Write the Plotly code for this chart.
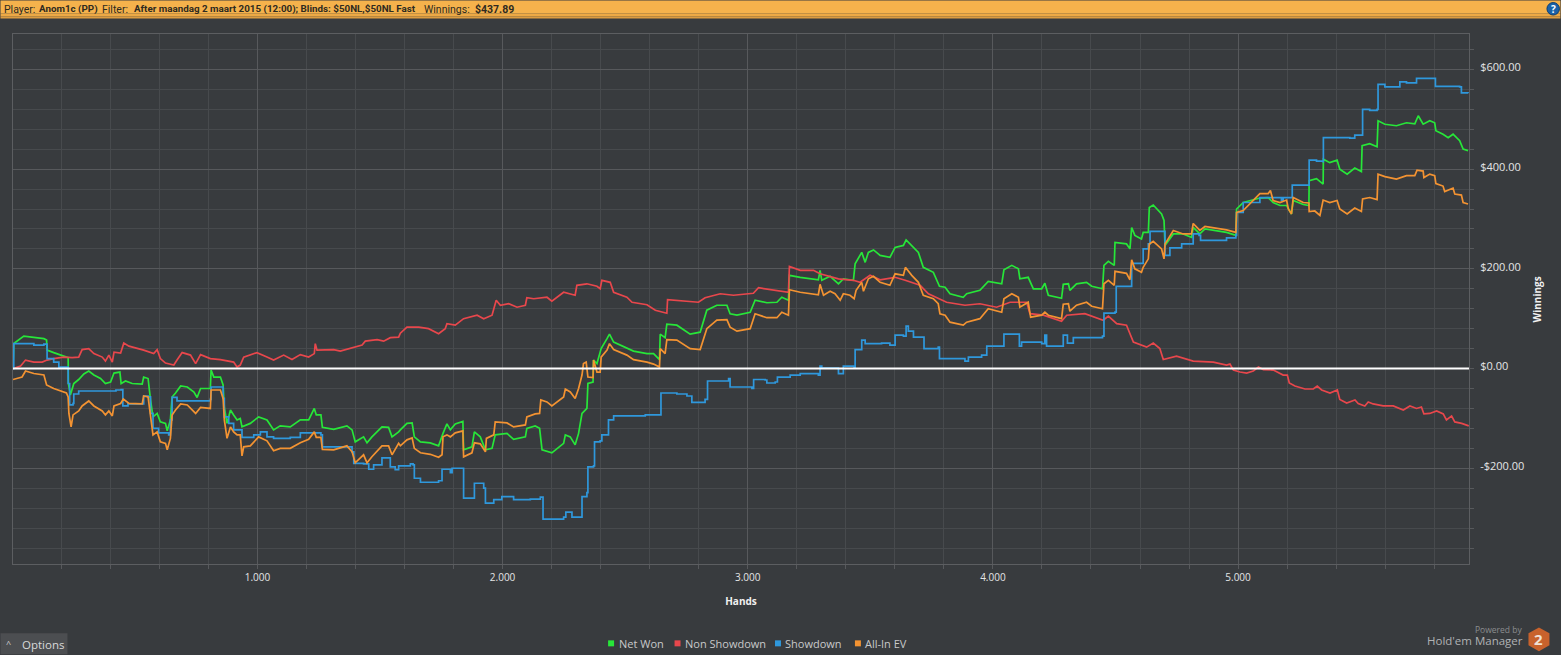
import plotly.graph_objects as go

# Series: hands, dollars
net_hands = [3,6,47,88,129,140,142,169,197,221,228,229,237,251,271,292,312,333,360,380,401,415,439,444,462,489,530,536,554,564,574,591,604,625,632,645,652,666,687,714,741,754,768,808,811,822,849,860,865,876,890,903,917,930,937,971,1005,1039,1066,1093,1134,1175,1209,1232,1240,1259,1265,1311,1365,1386,1399,1433,1447,1467,1508,1535,1549,1576,
1583,1610,1631,1640,1665,1705,1739,1757,1773,1787,1807,1838,1841,1875,1885,1909,1930,1957,1970,2018,2045,2093,2099,2133,2151,2161,2201,2249,2256,2276,2296,2310,2324,2344,2348,2369,2371,2385,2402,2426,2436,2453,2507,2534,2589,2616,2640,2643,2663,2670,2711,2765,2806,2833,2874,2915,2928,2956,3010,3030,3078,3119,3139,3166,
3170,3214,3288,3295,3302,3336,3370,3390,3431,3438,3465,3479,3492,3513,3540,3580,3601,3635,3646,3669,3696,3716,3757,3782,3805,3825,3879,3893,3947,3981,4036,4045,4077,4104,4110,4144,4165,4199,4212,4226,4280,4287,4308,4314,4341,4382,4403,4447,4453,4471,4495,4498,4545,4559,4566,4579,4606,4613,4634,4638,4654,4688,4698,4702,4736,4776,4810,4817,4844,4865,4953,4991,4994,5021,
5089,5123,5143,5171,5198,5218,5225,5266,5289,5290,5320,5347,5348,5374,5404,5415,5445,5476,5503,5506,5537,5567,5571,5599,5646,5687,5721,5735,5755,5782,5802,5807,5836,5857,5877,5904,5918,5938]
net_won = [0,50,65,62,60,57,37,32,27,23,22,-30,-53,-30,-22,-11,-5,-13,-20,-30,-27,-9,-7,-30,-25,-30,-31,-17,-20,-63,-97,-90,-107,-110,-125,-103,-57,-49,-35,-37,-47,-58,-40,-40,-3,-17,-17,-33,-78,-110,-83,-93,-103,-100,-117,-110,-97,-103,-123,-115,-117,-103,-103,-80,-93,-93,-118,-122,-115,-123,-147,-137,-149,-137,-117,-118,-137,-127,
-123,-110,-109,-137,-147,-149,-155,-130,-111,-123,-111,-106,-163,-157,-127,-137,-163,-160,-133,-130,-142,-137,-120,-115,-120,-163,-169,-150,-133,-137,-153,-130,-90,-80,-30,-27,17,10,40,60,69,53,42,35,30,30,18,69,62,89,87,69,73,117,127,127,110,107,113,137,132,133,143,137,
187,183,178,197,177,185,170,180,177,210,233,213,233,238,227,223,243,247,258,247,233,203,193,165,163,150,143,150,157,175,170,198,207,200,180,183,160,160,171,147,141,169,170,157,170,173,165,160,207,215,207,253,250,240,283,267,260,273,273,323,328,310,297,247,270,270,263,283,270,280,273,267,320,333,
342,343,333,327,327,310,337,329,327,377,381,370,420,413,418,400,390,402,395,447,451,445,497,490,487,493,491,507,490,497,493,477,470,463,470,457,440,437]

nonsd_hands = [3,4,34,54,88,122,142,169,210,244,271,285,312,333,367,380,394,408,415,442,455,476,536,577,591,604,625,659,672,693,727,748,768,808,849,903,917,930,944,998,1039,1066,1107,1141,1175,1209,1232,1236,1243,1311,1338,1393,1427,1440,1488,1515,1542,1576,
1583,1610,1658,1698,1739,1766,1773,1807,1841,1896,1923,1957,1974,1991,2025,2059,2093,2099,2127,2181,2201,2249,2296,2303,2344,2385,2398,2405,2439,2453,2507,2528,2589,2623,2670,2673,2752,2799,2826,2888,2942,3023,3044,3119,3166,
3170,3214,3268,3295,3370,3431,3458,3499,3540,3601,3642,3703,3737,3811,3886,3947,4015,4070,4138,4151,4206,4280,4301,4375,4450,4471,4505,4545,4573,4627,4654,4681,4695,4749,4817,4899,4953,
4967,4981,5008,5035,5062,5083,5103,5144,5184,5201,5209,5232,5273,5307,5323,5341,5375,5405,5415,5443,5477,5490,5517,5531,5551,5592,5633,5674,5701,5728,5748,5758,5782,5810,5837,5850,5871,5884,5912,5941]
non_showdown = [50,0,5,17,13,13,17,20,23,22,23,38,40,30,23,15,27,13,33,31,51,45,37,30,38,20,11,7,17,32,27,10,28,20,18,13,3,7,23,32,23,17,27,18,28,23,30,50,37,38,35,42,47,55,58,55,62,63,
71,83,83,80,70,80,90,87,100,107,100,107,137,127,130,123,127,142,140,143,135,153,147,167,170,165,160,177,173,153,143,133,128,117,111,138,135,133,142,150,147,151,162,157,153,
205,197,197,190,180,177,173,187,178,183,177,167,150,133,127,130,123,133,133,110,107,95,107,110,97,105,90,87,53,43,51,40,18,25,15,13,7,
9,-3,-7,-9,-5,3,-2,-3,-13,-13,-29,-35,-41,-41,-35,-43,-49,-43,-62,-69,-63,-70,-75,-67,-71,-75,-75,-83,-75,-80,-77,-91,-90,-85,-91,-103,-95,-107,-110,-115]

sd_hands = [3,6,54,88,129,140,142,169,190,221,228,234,248,251,271,346,423,444,451,472,530,536,554,564,574,597,628,638,645,652,672,740,808,811,849,860,865,883,903,937,985,1012,1039,1066,1134,1175,1236,1259,1265,1365,1386,1393,1433,1454,1474,1508,1535,1542,1562,1576,
1583,1624,1635,1640,1665,1739,1753,1780,1787,1794,1838,1841,1875,1885,1923,1930,1964,1997,2045,2113,2154,2165,2249,2258,2276,2283,2317,2324,2344,2348,2371,2375,2398,2405,2426,2432,2453,2582,2643,2646,2711,2752,2772,2826,2836,2922,2928,3017,3024,3071,3078,3112,3121,
3173,3214,3288,3295,3302,3363,3370,3383,3390,3434,3438,3465,3479,3546,3580,3601,3635,3646,3655,3673,3676,3714,3719,3777,3782,3886,3900,3954,3975,4043,4045,4104,4108,4117,4199,4212,4219,4280,4287,4304,4328,4447,4453,4498,4503,4562,4566,4606,4613,4634,4641,4695,4702,4722,4770,4810,4817,4841,4847,4953,4991,4994,5021,
5089,5177,5184,5218,5221,5289,5290,5320,5347,5348,5456,5476,5506,5508,5537,5567,5571,5599,5646,5660,5687,5721,5728,5802,5805,5904,5911,5938]
showdown = [0,50,50,47,49,49,20,13,3,3,-30,-73,-70,-51,-45,-45,-43,-42,-75,-71,-71,-55,-57,-90,-120,-129,-129,-133,-103,-58,-65,-65,-62,-37,-37,-60,-97,-110,-123,-138,-133,-127,-137,-140,-138,-129,-129,-133,-157,-157,-167,-190,-191,-202,-193,-179,-179,-197,-203,-195,
-195,-191,-193,-220,-228,-225,-202,-202,-209,-200,-200,-260,-260,-230,-240,-270,-263,-257,-263,-262,-258,-302,-298,-288,-288,-298,-298,-257,-249,-197,-195,-147,-145,-133,-133,-103,-95,-93,-93,-49,-51,-55,-68,-62,-25,-20,-37,-40,-22,-23,-29,-27,-17,
-13,-10,-13,5,1,1,-10,-10,5,3,38,57,50,51,47,67,65,85,75,75,63,63,40,43,20,15,23,27,45,45,69,69,45,53,50,67,45,45,67,51,62,65,111,113,165,165,211,211,240,250,275,275,227,242,250,250,270,267,257,262,267,313,333,
343,338,343,343,368,368,418,416,415,463,462,468,468,520,518,520,570,565,565,575,573,573,582,582,566,565,553,552]

ev_hands = [3,40,54,88,129,140,169,197,221,228,231,240,248,271,285,312,333,367,380,394,408,415,442,453,476,530,536,554,564,574,591,604,625,632,645,652,666,687,714,748,768,808,811,849,860,865,876,890,903,917,930,937,944,971,1005,1039,1066,1093,1134,1175,1209,1232,1240,1259,1265,1311,1365,1386,1399,1433,1447,1467,1508,1535,1549,1576,
1583,1610,1631,1640,1665,1705,1739,1753,1757,1773,1787,1807,1838,1841,1875,1885,1909,1930,1934,1964,1970,2018,2045,2093,2099,2133,2151,2156,2181,2201,2249,2256,2276,2296,2310,2324,2330,2341,2348,2369,2371,2385,2398,2402,2426,2436,2453,2507,2534,2589,2616,2640,2643,2663,2670,2711,2765,2806,2833,2874,2915,2928,2956,3010,3030,3078,3119,3139,3166,
3170,3214,3288,3295,3309,3336,3356,3377,3390,3417,3434,3442,3465,3472,3492,3513,3540,3580,3601,3635,3643,3669,3696,3716,3757,3777,3784,3805,3825,3879,3893,3947,3981,4036,4045,4077,4104,4110,4144,4154,4199,4212,4226,4280,4287,4308,4314,4341,4382,4403,4447,4453,4471,4495,4498,4545,4559,4566,4579,4606,4613,4634,4638,4654,4688,4698,4702,4736,4776,4810,4817,4844,4865,4953,4991,4994,5021,
5089,5123,5132,5143,5171,5198,5205,5218,5225,5266,5289,5290,5313,5334,5347,5374,5404,5415,5445,5476,5503,5508,5537,5567,5571,5599,5646,5687,5721,5730,5755,5758,5782,5802,5807,5836,5843,5877,5884,5911,5918,5938]
all_in_ev = [-22,-17,-5,-10,-13,-33,-40,-45,-49,-57,-90,-117,-93,-85,-75,-65,-75,-85,-93,-85,-95,-75,-70,-61,-70,-71,-55,-57,-90,-133,-127,-147,-150,-163,-140,-93,-83,-71,-73,-90,-78,-80,-43,-43,-60,-103,-140,-117,-127,-133,-133,-175,-157,-155,-137,-145,-165,-160,-160,-149,-142,-127,-138,-138,-162,-163,-155,-167,-189,-173,-189,-177,-155,-155,-173,-150,
-155,-143,-139,-160,-169,-172,-178,-173,-137,-133,-137,-129,-125,-177,-169,-149,-151,-167,-140,-133,-107,-109,-117,-113,-97,-91,-90,-63,-67,-75,-57,-41,-47,-60,-40,-13,10,13,-17,-18,17,-7,-7,23,37,50,38,27,18,13,9,3,40,30,58,57,40,38,80,97,98,83,75,80,110,102,102,113,107,
158,153,148,169,147,155,150,137,150,147,140,157,173,155,180,185,173,167,190,187,203,187,173,147,140,130,110,107,93,87,93,100,120,113,140,150,143,123,133,103,107,113,107,100,129,130,115,127,133,125,120,170,177,167,195,191,178,218,200,193,203,220,250,255,240,220,250,277,270,270,291,277,285,278,273,313,317,
351,351,357,337,333,338,320,310,343,333,332,315,316,307,338,333,337,320,310,322,315,340,343,339,390,385,380,387,387,398,396,383,390,387,371,366,355,362,350,348,333,330]

x_tick_values = [1000, 2000, 3000, 4000, 5000]
x_tick_labels = ["1.000", "2.000", "3.000", "4.000", "5.000"]
y_tick_values = [-200, 0, 200, 400, 600]
y_tick_labels = ["-$200.00", "$0.00", "$200.00", "$400.00", "$600.00"]
series_names = ["Net Won", "Non Showdown", "Showdown", "All-In EV"]
series_colors = ["#27e639", "#e8474c", "#2f98dc", "#f39332"]
series_shapes = ["linear", "linear", "hv", "linear"]

W, H = 1561, 655
L, R, T, B = 12.5, 1469.5, 33.5, 564.5
BG = "#383b3e"
FONT = "Open Sans, sans-serif"

def px(x):
    return (x - L) / (R - L)

def py(y):
    return (B - y) / (B - T)

fig = go.Figure()
pairs = [(net_hands, net_won), (nonsd_hands, non_showdown), (sd_hands, showdown), (ev_hands, all_in_ev)]
for (xs, ys), name, color, shp in zip(pairs, series_names, series_colors, series_shapes):
    fig.add_trace(go.Scatter(x=xs, y=ys, name=name, mode="lines",
                             line=dict(color=color, width=1.7, shape=shp), showlegend=False))

def rect(x0, y0, x1, y1, color, layer="below"):
    fig.add_shape(type="rect", xref="paper", yref="paper", x0=px(x0), x1=px(x1), y0=py(y0), y1=py(y1),
                  fillcolor=color, line_width=0, layer=layer)

def text(x, y, s, size=11, color="#d8d9da", anchor="left", bold=False, angle=0, family=FONT):
    fig.add_annotation(xref="paper", yref="paper", x=px(x), y=py(y), text=f"<b>{s}</b>" if bold else s,
                       showarrow=False, xanchor=anchor, yanchor="middle", textangle=angle,
                       font=dict(size=size, color=color, family=family), borderpad=0)

# header bar
rect(0, 0, W, 13, "#f5b24c")
rect(0, 13, W, 16, "#eda945")
rect(0, 16, W, 18, "#dc9c40")
for x, s, b, sz in [(2, "Player:", False, 10.5), (38, "Anom1c (PP)", True, 9.8), (101, "Filter:", False, 10.5),
                    (133, "After maandag 2 maart 2015 (12:00); Blinds: $50NL,$50NL Fast", True, 9.8),
                    (423, "Winnings:", False, 10.5), (474, "$437.89", True, 10.5)]:
    text(x, 8.5, s, size=sz, color="#2e2a20", bold=b, family="Roboto, sans-serif")
fig.add_shape(type="circle", xref="paper", yref="paper", x0=px(1547.5), x1=px(1560), y0=py(2), y1=py(14.5),
              fillcolor="#1b62a8", line=dict(color="#0d3d70", width=1), layer="above")
text(1553.8, 8.3, "?", size=10, color="#ffffff", anchor="center", bold=True)

# zero line
fig.add_shape(type="line", xref="paper", yref="y", x0=0, x1=1, y0=0, y1=0,
              line=dict(color="#ffffff", width=2), layer="above")

# legend
for x, c, s in [(611, series_colors[0], series_names[0]), (677.5, series_colors[1], series_names[1]),
                (778, series_colors[2], series_names[2]), (858, series_colors[3], series_names[3])]:
    rect(x - 3, 641, x + 3, 647, c)
    text(x + 6.5, 644, s, size=11, color="#c8c9ca")

# options button
rect(0, 634, 67, 655, "#4c4e51")
text(4, 644.5, "^", size=9, color="#d0d0d0")
text(21, 645.5, "Options", size=11.5, color="#d8d9da")

# logo
text(1524, 630.5, "Powered by", size=8.5, color="#8b8d8f", anchor="right")
text(1525, 641, "Hold'em Manager", size=11.5, color="#b0b2b4", anchor="right")
hexpts = [(1539.5, 628), (1550, 634), (1550, 646), (1539.5, 652), (1529, 646), (1529, 634)]
path = "M " + " L ".join(f"{px(a):.5f},{py(b):.5f}" for a, b in hexpts) + " Z"
fig.add_shape(type="path", xref="paper", yref="paper", path=path, fillcolor="#c8622c", line_width=0)
text(1539.5, 640, "2", size=15, color="#f0e0d4", anchor="center", bold=True)

GRID_MAJOR = "#57595c"
GRID_MINOR = "#474a4d"
fig.update_xaxes(range=[3, 5942], tickvals=x_tick_values, ticktext=x_tick_labels, showgrid=True,
                 gridcolor=GRID_MAJOR, gridwidth=1, zeroline=False, showline=True, linecolor="#5c5e61",
                 mirror=True, ticks="outside", ticklen=4, tickcolor=GRID_MAJOR,
                 tickfont=dict(size=10, color="#e4e5e6", family=FONT),
                 minor=dict(dtick=200, tick0=0, showgrid=True, gridcolor=GRID_MINOR, ticks="outside",
                            ticklen=4, tickcolor=GRID_MAJOR),
                 title=dict(text="<b>Hands</b>", font=dict(size=10, color="#f0f0f0", family=FONT), standoff=14))
fig.update_yaxes(range=[-392, 671], side="right", tickvals=y_tick_values, ticktext=y_tick_labels, showgrid=True,
                 gridcolor=GRID_MAJOR, gridwidth=1, zeroline=False, showline=True, linecolor="#5c5e61",
                 mirror=True, ticks="outside", ticklen=4, tickcolor=GRID_MAJOR, ticklabelstandoff=4, ticklabelshift=-2,
                 tickfont=dict(size=11, color="#e4e5e6", family=FONT),
                 minor=dict(dtick=40, tick0=0, showgrid=True, gridcolor=GRID_MINOR, ticks="outside",
                            ticklen=4, tickcolor=GRID_MAJOR),
                 title=dict(text="", font=dict(size=10)))
text(1538, 299, "Winnings", size=10, color="#f0f0f0", anchor="center", bold=True, angle=-90)

fig.update_layout(width=W, height=H, autosize=False, paper_bgcolor=BG, plot_bgcolor=BG,
                  margin=dict(l=L, r=W - R, t=T, b=H - B, pad=0), showlegend=False,
                  font=dict(family=FONT), hovermode=False)
fig.write_html("out.html", config={"displayModeBar": False},
               post_script="document.body.style.margin='0';document.body.style.overflow='hidden';")
